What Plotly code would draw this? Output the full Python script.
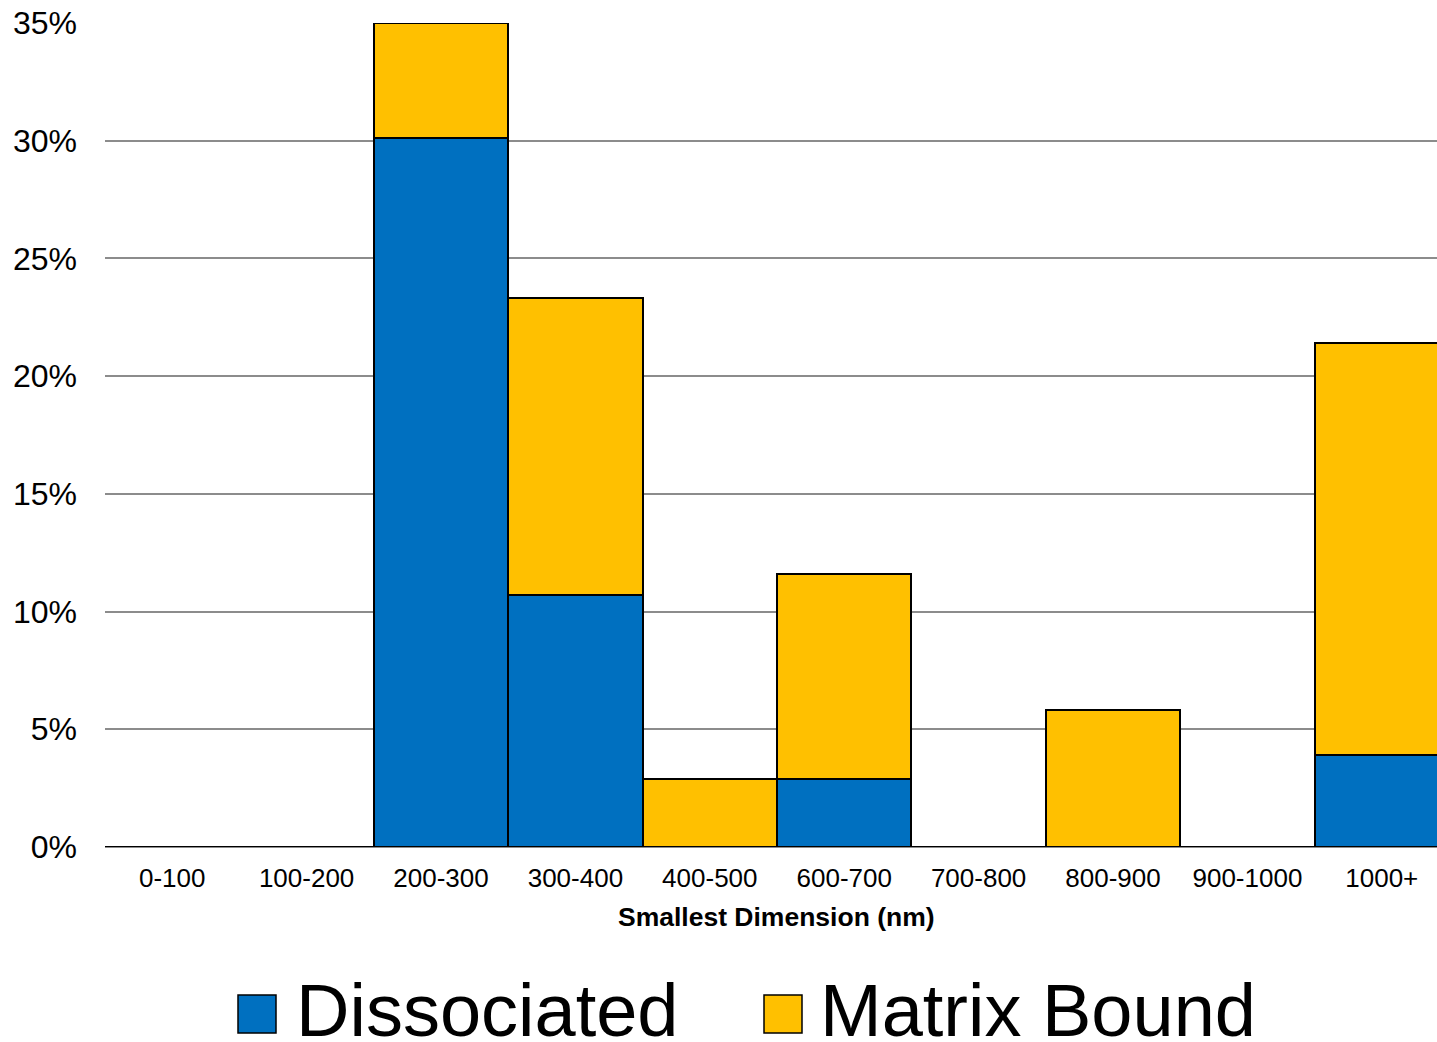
import plotly.graph_objects as go

# Data (percent of particles)
categories = ["0-100", "100-200", "200-300", "300-400", "400-500",
              "600-700", "700-800", "800-900", "900-1000", "1000+"]
dissociated = [0, 0, 30.1, 10.7, 0, 2.9, 0, 0, 0, 3.9]
matrix_bound = [0, 0, 4.9, 12.6, 2.9, 8.7, 0, 5.8, 0, 17.5]
y_ticks = [0, 5, 10, 15, 20, 25, 30, 35]
y_tick_labels = [f"{v}%" for v in y_ticks]

BLUE = "#0070C0"
YELLOW = "#FFC000"
GRID = "#8c8c8c"
FONT = "Liberation Sans, Arial, sans-serif"

W, H = 1437, 1042
M_L, M_R, M_T, M_B = 105, 0, 23, 195
plot_w = W - M_L - M_R
plot_h = H - M_T - M_B

fig = go.Figure()
fig.add_trace(go.Bar(
    x=categories, y=dissociated, name="Dissociated",
    marker=dict(color=BLUE, line=dict(color="black", width=2)),
))
fig.add_trace(go.Bar(
    x=categories, y=matrix_bound, name="Matrix Bound",
    marker=dict(color=YELLOW, line=dict(color="black", width=2)),
))


# helpers: pixel position -> paper coords
def px_x(px):
    return (px - M_L) / plot_w


def px_y(py):
    return (H - M_B - py) / plot_h


# Manual legend (big squares + big text)
legend_items = [("Dissociated", BLUE, 238, 294), ("Matrix Bound", YELLOW, 764, 818)]
for label, color, sq_x, txt_x in legend_items:
    fig.add_shape(type="rect", xref="paper", yref="paper",
                  x0=px_x(sq_x), x1=px_x(sq_x + 38),
                  y0=px_y(995 + 38), y1=px_y(995),
                  fillcolor=color, line=dict(color="black", width=1.5))
    fig.add_annotation(text=label, xref="paper", yref="paper",
                       x=px_x(txt_x), y=px_y(1010), xanchor="left", yanchor="middle",
                       showarrow=False, font=dict(size=74, color="black", family=FONT))

# axis title centred on the full (uncropped) plot area
fig.add_annotation(text="<b>Smallest Dimension (nm)</b>", xref="paper", yref="paper",
                   x=px_x(777), y=px_y(917), xanchor="center", yanchor="middle",
                   showarrow=False, font=dict(size=26.5, color="black", family=FONT))

# visible part of the category axis (chart is cut off on the right)
slot_px = 134.4
x_end = -0.5 + plot_w / slot_px

fig.update_layout(
    width=W, height=H,
    barmode="stack", bargap=0,
    showlegend=False,
    paper_bgcolor="white", plot_bgcolor="white",
    margin=dict(l=M_L, r=M_R, t=M_T, b=M_B, autoexpand=False),
    font=dict(family=FONT, color="black"),
    xaxis=dict(
        range=[-0.5, x_end],
        showgrid=False, showline=False, zeroline=False,
        tickfont=dict(size=26), ticklabelstandoff=13,
    ),
    yaxis=dict(
        range=[0, 35], tickmode="array", tickvals=y_ticks, ticktext=y_tick_labels,
        showgrid=True, gridcolor=GRID, gridwidth=2,
        zeroline=True, zerolinecolor=GRID, zerolinewidth=2,
        showline=False, tickfont=dict(size=32), ticklabelstandoff=27,
    ),
)

fig.write_html("out.html", config={"displayModeBar": False},
               post_script="document.body.style.margin='0';")
